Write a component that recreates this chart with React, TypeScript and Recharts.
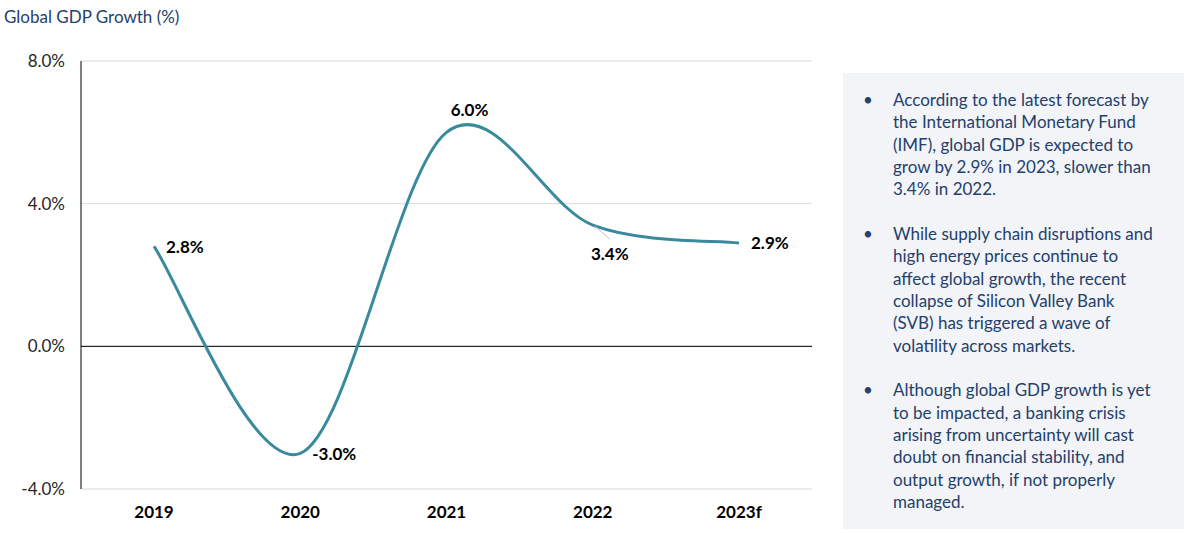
import React from 'react';
import { LineChart, Line, XAxis, YAxis, CartesianGrid, ReferenceLine, LabelList } from 'recharts';

const years = ['2019', '2020', '2021', '2022', '2023f'];
const gdpGrowth = [2.8, -3.0, 6.0, 3.4, 2.9];
const yTicks = [-4, 0, 4, 8];

const notes = [
  [
    'According to the latest forecast by',
    'the International Monetary Fund',
    '(IMF), global GDP is expected to',
    'grow by 2.9% in 2023, slower than',
    '3.4% in 2022.',
  ],
  [
    'While supply chain disruptions and',
    'high energy prices continue to',
    'affect global growth, the recent',
    'collapse of Silicon Valley Bank',
    '(SVB) has triggered a wave of',
    'volatility across markets.',
  ],
  [
    'Although global GDP growth is yet',
    'to be impacted, a banking crisis',
    'arising from uncertainty will cast',
    'doubt on financial stability, and',
    'output growth, if not properly',
    'managed.',
  ],
];

const data = years.map((year, i) => ({ year, value: gdpGrowth[i] }));

const FONT = 'Lato, "Open Sans", sans-serif';
const NAVY = '#24406B';

// excel-style smoothed line (catmull-rom through the points)
const excelSmooth = (context: any) => {
  let pts: number[][] = [];
  return {
    areaStart() {},
    areaEnd() {},
    lineStart() {
      pts = [];
    },
    lineEnd() {
      if (!pts.length) return;
      context.moveTo(pts[0][0], pts[0][1]);
      for (let i = 0; i < pts.length - 1; i++) {
        const p0 = pts[Math.max(i - 1, 0)];
        const p1 = pts[i];
        const p2 = pts[i + 1];
        const p3 = pts[Math.min(i + 2, pts.length - 1)];
        context.bezierCurveTo(
          p1[0] + (p2[0] - p0[0]) / 6,
          p1[1] + (p2[1] - p0[1]) / 6,
          p2[0] - (p3[0] - p1[0]) / 6,
          p2[1] - (p3[1] - p1[1]) / 6,
          p2[0],
          p2[1]
        );
      }
    },
    point(x: number, y: number) {
      pts.push([+x, +y]);
    },
  };
};

const ValueLabel = (props: any) => {
  const { x, y, value, index } = props;
  const text = `${Number(value).toFixed(1)}%`;
  const style = { fontFamily: FONT, fontSize: 17, fontWeight: 700, fill: '#000' };
  if (index === 2) {
    return (
      <text x={x + 23} y={y - 23} textAnchor="middle" dominantBaseline="central" style={style}>
        {text}
      </text>
    );
  }
  if (index === 3) {
    return (
      <g>
        <line x1={x + 2} y1={y + 1} x2={x + 17} y2={y + 14} stroke="#bfbfbf" strokeWidth={1} />
        <text x={x + 17} y={y + 28} textAnchor="middle" dominantBaseline="central" style={style}>
          {text}
        </text>
      </g>
    );
  }
  return (
    <text x={x + 12} y={y} textAnchor="start" dominantBaseline="central" style={style}>
      {text}
    </text>
  );
};

export default function App() {
  return (
    <div
      style={{
        position: 'absolute',
        left: 0,
        top: 0,
        width: 1187,
        height: 533,
        background: '#fff',
        fontFamily: FONT,
      }}
    >
      <div style={{ position: 'absolute', left: 4, top: 6, fontSize: 17, color: NAVY }}>
        Global GDP Growth (%)
      </div>

      <div style={{ position: 'absolute', left: 0, top: 0 }}>
        <LineChart width={830} height={533} data={data} margin={{ top: 61, right: 18, bottom: 14, left: 0 }}>
          <CartesianGrid vertical={false} stroke="#d9d9d9" />
          <XAxis
            dataKey="year"
            axisLine={false}
            tickLine={false}
            tickSize={0}
            tickMargin={17}
            height={30}
            padding={{ left: 73, right: 73 }}
            tick={{ fill: '#000', fontSize: 17, fontWeight: 700, fontFamily: FONT }}
          />
          <YAxis
            domain={[-4, 8]}
            ticks={yTicks}
            width={81}
            axisLine={{ stroke: '#000' }}
            tickLine={false}
            tickSize={0}
            tickMargin={16}
            tickFormatter={(v: number) => `${v.toFixed(1)}%`}
            tick={{ fill: '#262626', fontSize: 17, fontFamily: FONT }}
          />
          <ReferenceLine y={0} stroke="#000" strokeWidth={1} />
          <Line
            dataKey="value"
            type={excelSmooth as any}
            stroke="#3A8A9E"
            strokeWidth={3}
            dot={false}
            activeDot={false}
            isAnimationActive={false}
          >
            <LabelList dataKey="value" content={ValueLabel} />
          </Line>
        </LineChart>
      </div>

      <div
        style={{
          position: 'absolute',
          left: 843,
          top: 73,
          width: 341,
          height: 456,
          background: '#F2F4F8',
          boxSizing: 'border-box',
          paddingTop: 16,
          color: NAVY,
          fontSize: 17,
          lineHeight: '22.3px',
        }}
      >
        {notes.map((lines, i) => (
          <div key={i} style={{ position: 'relative', paddingLeft: 50, marginBottom: 22.6 }}>
            <span style={{ position: 'absolute', left: 20, top: 0 }}>•</span>
            {lines.map((line, j) => (
              <div key={j} style={{ whiteSpace: 'nowrap' }}>
                {line}
              </div>
            ))}
          </div>
        ))}
      </div>
    </div>
  );
}
